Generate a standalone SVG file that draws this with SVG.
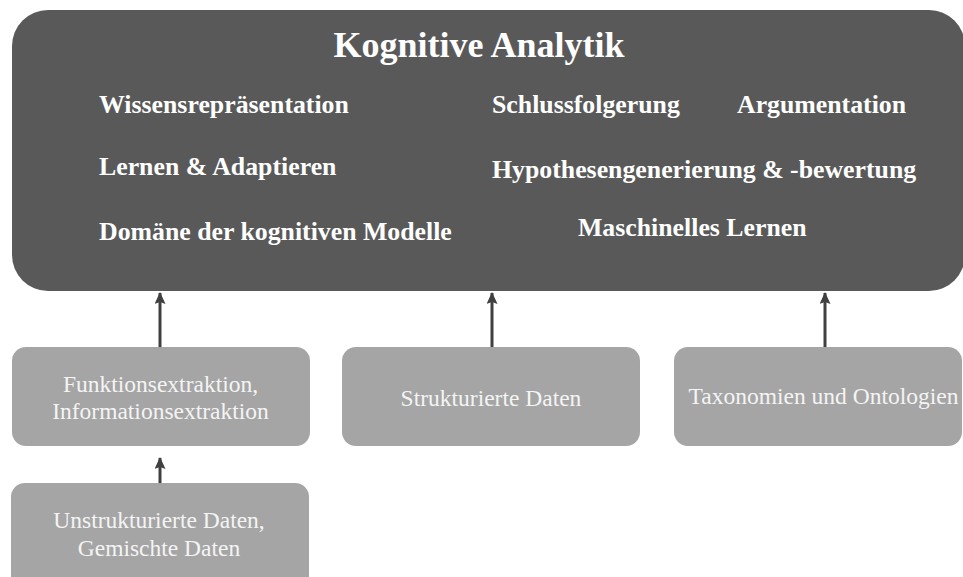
<svg xmlns="http://www.w3.org/2000/svg" width="963" height="577" viewBox="0 0 963 577">
<defs>
<marker id="ah" markerWidth="12" markerHeight="11" refX="11" refY="5.5" orient="auto" markerUnits="userSpaceOnUse" viewBox="0 0 12 11"><path d="M0,0 L12,5.5 L0,11 L2,5.5 z" fill="#404040"/></marker>
<style>
.main{fill:#595959}
.sub{fill:#a5a5a5}
text{font-family:'Liberation Serif','DejaVu Serif',serif;fill:#fff}
.h{font-size:36px;font-weight:bold}
.i{font-size:25.8px;font-weight:bold}
.s{font-size:23.5px;fill:#f4f4f4}
.c{stroke:#404040;stroke-width:3;fill:none;marker-end:url(#ah)}
</style>
</defs>
<rect width="963" height="577" fill="#fff"/>
<g id="kognitive-analytik">
<rect class="main" x="12" y="10" width="953" height="281" rx="36"/>
<text class="h" x="479" y="57" text-anchor="middle">Kognitive Analytik</text>
<text class="i" x="99" y="113">Wissensrepräsentation</text>
<text class="i" x="492" y="113">Schlussfolgerung</text>
<text class="i" x="737" y="113">Argumentation</text>
<text class="i" x="99" y="175">Lernen &amp; Adaptieren</text>
<text class="i" x="492" y="178">Hypothesengenerierung &amp; -bewertung</text>
<text class="i" x="99" y="240">Domäne der kognitiven Modelle</text>
<text class="i" x="578" y="236">Maschinelles Lernen</text>
</g>
<g id="funktionsextraktion">
<rect class="sub" x="12" y="347" width="298" height="99" rx="14"/>
<text class="s" x="160.5" y="392" text-anchor="middle">Funktionsextraktion,</text>
<text class="s" x="160.5" y="419" text-anchor="middle">Informationsextraktion</text>
</g>
<g id="strukturierte-daten">
<rect class="sub" x="342" y="347" width="298" height="99" rx="14"/>
<text class="s" x="491" y="406" text-anchor="middle">Strukturierte Daten</text>
</g>
<g id="taxonomien">
<rect class="sub" x="674" y="347" width="288" height="99" rx="14"/>
<text class="s" x="823.5" y="404" text-anchor="middle">Taxonomien und Ontologien</text>
</g>
<g id="unstrukturierte-daten">
<rect class="sub" x="11" y="483" width="298" height="110" rx="14"/>
<text class="s" x="159" y="528" text-anchor="middle">Unstrukturierte Daten,</text>
<text class="s" x="159" y="556" text-anchor="middle">Gemischte Daten</text>
</g>
<g id="connectors">
<line class="c" x1="160" y1="347" x2="160" y2="293"/>
<line class="c" x1="492" y1="347" x2="492" y2="293"/>
<line class="c" x1="825" y1="347" x2="825" y2="293"/>
<line class="c" x1="160" y1="483" x2="160" y2="458"/>
</g>
</svg>
